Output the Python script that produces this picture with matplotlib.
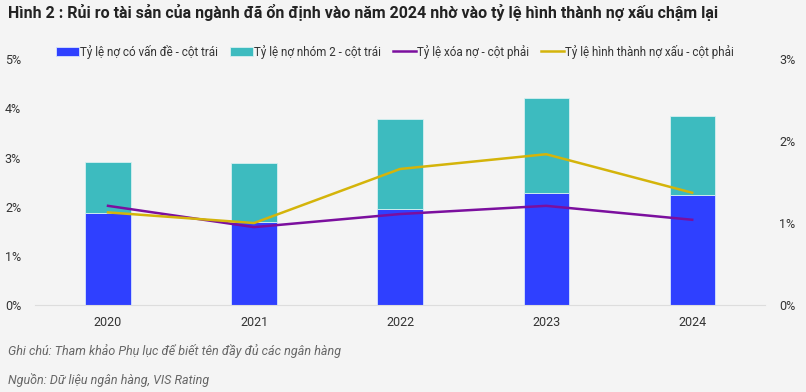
import matplotlib.pyplot as plt
import numpy as np

# du lieu doc tu hinh
years = ['2020', '2021', '2022', '2023', '2024']
no_co_van_de = [1.88, 1.69, 1.96, 2.28, 2.24]      # cot trai
no_nhom_2 = [1.03, 1.19, 1.83, 1.94, 1.60]         # cot trai, chong len
xoa_no = [1.21, 0.95, 1.11, 1.21, 1.04]            # cot phai
hinh_thanh_nxau = [1.13, 1.00, 1.66, 1.84, 1.37]   # cot phai

labels = ['Tỷ lệ nợ có vấn đề - cột trái', 'Tỷ lệ nợ nhóm 2 - cột trái',
          'Tỷ lệ xóa nợ - cột phải', 'Tỷ lệ hình thành nợ xấu - cột phải']

BG = '#f4f4f4'
plt.rcParams['font.family'] = ['Roboto', 'DejaVu Sans']

fig = plt.figure(figsize=(8.06, 3.92), dpi=100, facecolor=BG)
ax = fig.add_axes([0.0434, 0.222, 0.906, 0.627])
ax.set_facecolor(BG)
x = np.arange(len(years))

b1 = ax.bar(x, no_co_van_de, width=0.31, color='#2f40ff', edgecolor='#d6e4ff', linewidth=0.6, label=labels[0])
b2 = ax.bar(x, no_nhom_2, bottom=no_co_van_de, width=0.31, color='#3dbbbf', edgecolor='#d6f0f0', linewidth=0.6, label=labels[1])
ax.set_xlim(-0.5, 4.5)
ax.set_ylim(0, 5)
ax.set_yticks(range(6))
ax.set_yticklabels([f'{i}%' for i in range(6)])
ax.set_xticks(x)
ax.set_xticklabels(years)

ax2 = ax.twinx()
l1, = ax2.plot(x, xoa_no, color='#7b0f9e', lw=1.8, label=labels[2])
l2, = ax2.plot(x, hinh_thanh_nxau, color='#d4b40a', lw=1.8, label=labels[3])
ax2.set_ylim(0, 3)
ax2.set_yticks(range(4))
ax2.set_yticklabels([f'{i}%' for i in range(4)])

for a in (ax, ax2):
    for s in a.spines.values():
        s.set_visible(False)
    a.tick_params(length=0, labelsize=9, colors='#333333')
ax.spines['bottom'].set_visible(True)
ax.spines['bottom'].set_color('#dddddd')
ax.tick_params(axis='y', pad=10)
ax.tick_params(axis='x', pad=8)
ax2.tick_params(axis='y', pad=10)

fig.legend(handles=[b1, b2, l1, l2], loc='center', bbox_to_anchor=(0.49, 0.868), ncol=4,
           frameon=False, fontsize=8.4, handlelength=2.0, handleheight=0.8, handletextpad=0.1,
           columnspacing=1.0, labelcolor='#333333')

fig.text(0.01, 0.968, 'Hình 2 : Rủi ro tài sản của ngành đã ổn định vào năm 2024 nhờ vào tỷ lệ hình thành nợ xấu chậm lại',
         fontsize=11.5, fontweight='bold', color='#222222', va='center')
fig.text(0.01, 0.105, 'Ghi chú: Tham khảo Phụ lục để biết tên đầy đủ các ngân hàng',
         fontsize=9, style='italic', color='#666666', va='center')
fig.text(0.01, 0.03, 'Nguồn: Dữ liệu ngân hàng, VIS Rating',
         fontsize=9, style='italic', color='#666666', va='center')

fig.savefig('out.png', dpi=100, facecolor=BG)
